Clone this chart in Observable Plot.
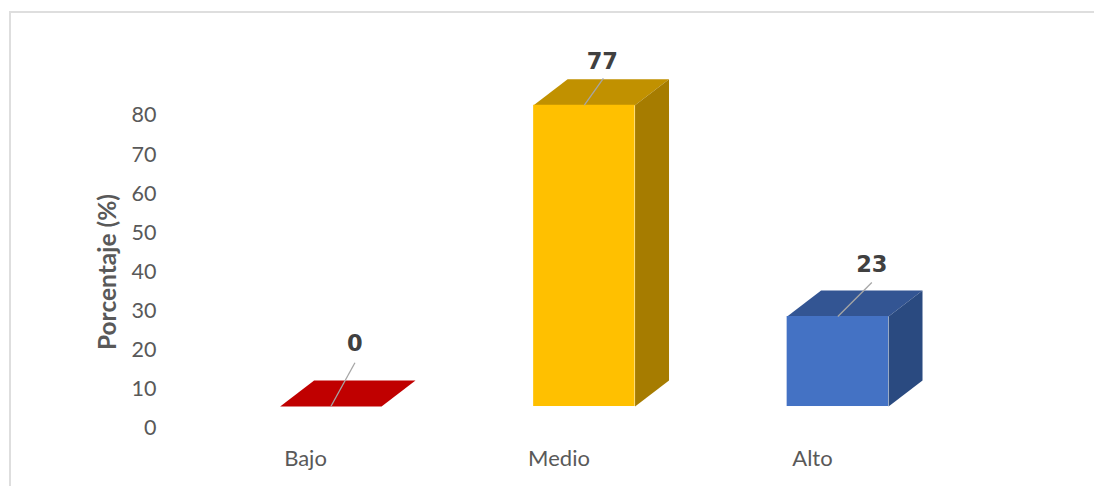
<!DOCTYPE html>
<html>
<head>
<meta charset="utf-8">
<script src="https://cdn.jsdelivr.net/npm/d3@7"></script>
<script src="https://cdn.jsdelivr.net/npm/@observablehq/plot@0.6"></script>
<style>
  html, body { margin: 0; padding: 0; background: #fff; width: 1094px; height: 486px; overflow: hidden; }
  #chart { position: relative; width: 1094px; height: 486px; }
  #chart svg { display: block; }
  #border { position: absolute; left: 9px; top: 11px; right: 0; bottom: 0; border-top: 2px solid #dedede; border-left: 2px solid #dedede; pointer-events: none; }
</style>
</head>
<body>
<div id="chart"><div id="border"></div></div>
<script>
const categories = ["Bajo", "Medio", "Alto"];
const values = [0, 77, 23];
const yTicks = [0, 10, 20, 30, 40, 50, 60, 70, 80];
const frontColors = ["#C00000", "#FFC000", "#4472C4"];
const topColors = ["#C00000", "#C19100", "#335593"];
const sideColors = ["#900000", "#A67C00", "#2A4A80"];

// 3D layout, expressed in scale units
const base = 5.62;      // height of the floor above the axis zero
const depthY = 6.65;    // vertical depth of the box
const depthX = 0.134;   // horizontal depth of the box
const barShift = 0.1;   // bars sit to the right of their tick labels
const halfWidth = 0.2;
const leaderDX = [0.095, 0.075, 0.134];
const leaderDY = [11.2, 6.9, 8.7];
const labelDX = [0.095, 0.071, 0.134];
const labelDY = [16.1, 11.2, 13.3];

const bars = categories.map((name, i) => ({
  name, i, value: values[i],
  x1: i + barShift - halfWidth,
  x2: i + barShift + halfWidth,
  xc: i + barShift,
  y1: base,
  y2: base + values[i]
}));

const topFace = bars.flatMap(b => [
  {k: b.name, x: b.x1, y: b.y2, fill: topColors[b.i]},
  {k: b.name, x: b.x2, y: b.y2, fill: topColors[b.i]},
  {k: b.name, x: b.x2 + depthX, y: b.y2 + depthY, fill: topColors[b.i]},
  {k: b.name, x: b.x1 + depthX, y: b.y2 + depthY, fill: topColors[b.i]}
]);
const sideFace = bars.filter(b => b.value > 0).flatMap(b => [
  {k: b.name, x: b.x2, y: b.y1, fill: sideColors[b.i]},
  {k: b.name, x: b.x2 + depthX, y: b.y1 + depthY, fill: sideColors[b.i]},
  {k: b.name, x: b.x2 + depthX, y: b.y2 + depthY, fill: sideColors[b.i]},
  {k: b.name, x: b.x2, y: b.y2, fill: sideColors[b.i]}
]);

const font = "Lato, 'Open Sans', sans-serif";

const plot = Plot.plot({
  width: 1094,
  height: 486,
  marginLeft: 156,
  marginRight: 20,
  marginTop: 115,
  marginBottom: 58,
  style: {fontFamily: font, background: "transparent"},
  x: {domain: [0, 2], range: [305, 812]},
  y: {domain: [0, 80]},
  marks: [
    Plot.line(topFace, {x: "x", y: "y", z: "k", fill: "fill", stroke: "none"}),
    Plot.line(sideFace, {x: "x", y: "y", z: "k", fill: "fill", stroke: "none"}),
    Plot.rect(bars, {x1: "x1", x2: "x2", y1: "y1", y2: "y2", fill: (d) => frontColors[d.i]}),
    Plot.link(bars, {
      x1: "xc", y1: "y2",
      x2: (d) => d.xc + leaderDX[d.i],
      y2: (d) => d.y2 + leaderDY[d.i],
      stroke: "#a6a6a6", strokeWidth: 1.3
    }),
    Plot.text(bars, {
      x: (d) => d.xc + labelDX[d.i],
      y: (d) => d.y2 + labelDY[d.i],
      text: (d) => String(d.value),
      fontFamily: "'DejaVu Sans', sans-serif",
      fontWeight: "bold",
      fontSize: 22.5,
      letterSpacing: 0.6,
      fill: "#404040"
    }),
    Plot.axisY({
      ticks: yTicks, tickSize: 0, tickPadding: 0, label: null,
      fontSize: 21.5, fill: "#595959"
    }),
    Plot.axisX({
      ticks: [0, 1, 2], tickFormat: (i) => categories[i], tickSize: 0, tickPadding: 22,
      label: null, fontSize: 22, fill: "#595959"
    }),
    Plot.text(["Porcentaje (%)"], {
      frameAnchor: "left", rotate: -90, dx: -48, textAnchor: "middle",
      fontFamily: font, fontWeight: "bold", fontSize: 24.5, letterSpacing: 0.3, fill: "#595959"
    })
  ]
});
document.getElementById("chart").prepend(plot);
</script>
</body>
</html>
